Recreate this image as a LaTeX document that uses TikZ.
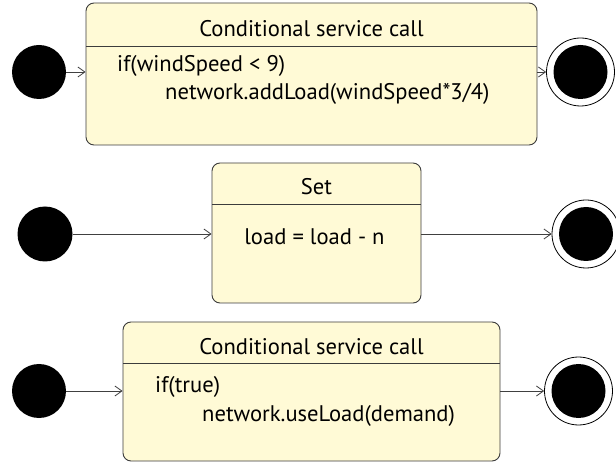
\documentclass[tikz,border=0pt]{standalone}
\usepackage{fontspec}
\setmainfont{PT Sans}
\usetikzlibrary{arrows.meta}
\definecolor{boxfill}{RGB}{255,250,214}
\definecolor{edgegray}{RGB}{60,60,60}
\begin{document}
\begin{tikzpicture}[x=1pt,y=-1pt,
  font=\fontsize{22.6}{27}\selectfont,
  statebox/.style={draw=edgegray, fill=boxfill, rounded corners=8pt, line width=0.9pt, inner sep=0pt},
  initdot/.style={circle, fill=black, inner sep=0pt, minimum size=54pt},
  finalring/.style={circle, draw=black, fill=white, line width=0.8pt, inner sep=0pt, minimum size=68pt},
  finaldot/.style={circle, fill=black, inner sep=0pt, minimum size=54pt},
  conn/.style={draw=black!75, line width=0.8pt, -{Straight Barb[length=7pt,width=10pt]}},
  sep/.style={draw=edgegray, line width=0.9pt},
  txt/.style={inner sep=0pt, anchor=base west},
  ttl/.style={inner sep=0pt, anchor=base}]
\useasboundingbox (0,0) rectangle (616,462);

% Row 1
\node[statebox, minimum width=451pt, minimum height=142pt] (b1) at (311.5,74) {};
\coordinate (h1l) at (86,46);
\coordinate (h1r) at (537,46);
\draw[sep] (h1l) -- (h1r);
\node[ttl] (t1) at (311.5,37) {Conditional service call};
\node[txt] (l1a) at (117,72) {if(windSpeed < 9)};
\node[txt] (l1b) at (165,100) {network.addLoad(windSpeed*3/4)};
\node[initdot] (i1) at (39,72) {};
\node[finalring] (f1) at (580.5,72) {};
\node[finaldot] (fd1) at (580.5,72) {};
\draw[conn] (i1) -- (i1 -| b1.west);
\draw[conn] (b1.east |- f1) -- (f1.west);

% Row 2
\node[statebox, minimum width=209pt, minimum height=140pt] (b2) at (316.5,233) {};
\coordinate (h2l) at (212,204);
\coordinate (h2r) at (421,204);
\draw[sep] (h2l) -- (h2r);
\node[ttl] (t2) at (316.5,195) {Set};
\node[ttl] (l2a) at (314.5,245) {load = load - n};
\node[initdot, minimum size=55pt] (i2) at (45,234) {};
\node[finalring] (f2) at (586,234) {};
\node[finaldot] (fd2) at (586,234) {};
\draw[conn] (i2) -- (i2 -| b2.west);
\draw[conn] (b2.east |- f2) -- (f2.west);

% Row 3
\node[statebox, minimum width=377pt, minimum height=139pt] (b3) at (311.5,391.5) {};
\coordinate (h3l) at (123,363);
\coordinate (h3r) at (500,363);
\draw[sep] (h3l) -- (h3r);
\node[ttl] (t3) at (311.5,355) {Conditional service call};
\node[txt] (l3a) at (155,392) {if(true)};
\node[txt] (l3b) at (202,421) {network.useLoad(demand)};
\node[initdot] (i3) at (39,391) {};
\node[finalring] (f3) at (578.5,391) {};
\node[finaldot] (fd3) at (578.5,391) {};
\draw[conn] (i3) -- (i3 -| b3.west);
\draw[conn] (b3.east |- f3) -- (f3.west);
\end{tikzpicture}
\end{document}
